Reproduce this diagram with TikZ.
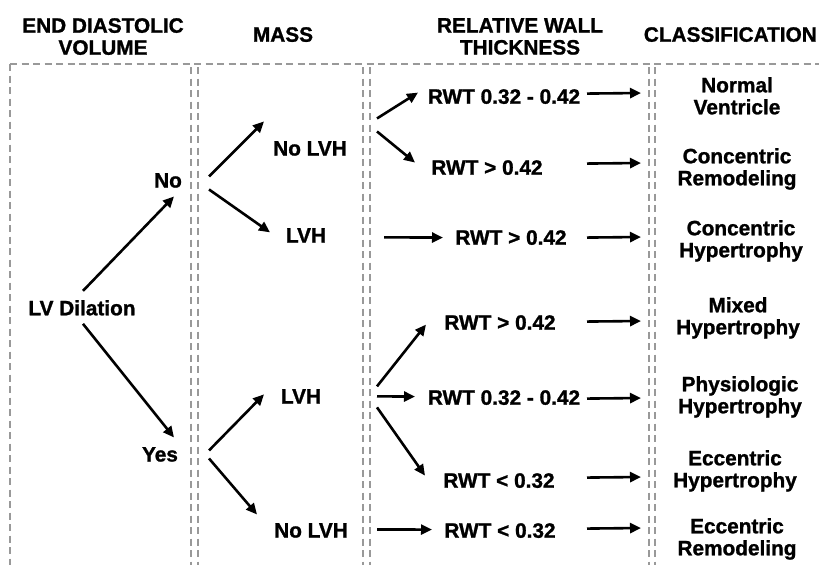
\documentclass[tikz,border=0pt]{standalone}
\usepackage{fontspec}
\setmainfont{Liberation Sans}
\newfontfamily\lblfont[FakeBold=1.2]{Liberation Sans Bold}
\usetikzlibrary{arrows.meta}
\begin{document}
\begin{tikzpicture}[x=1pt,y=-1pt,
  lbl/.style={font=\fontsize{20.8}{22}\selectfont\lblfont, inner sep=0pt, anchor=north, align=center},
  arr/.style={line width=2.6pt, -{Triangle[length=11pt,width=10pt]}},
  dsh/.style={draw=black!40, line width=1.4pt, dash pattern=on 7pt off 4.5pt}]
\useasboundingbox[fill=white] (0,0) rectangle (819,565);

% dashed frame
\draw[dsh] (10,64) -- (819,64);
\draw[dsh] (10,64) -- (10,565);
\foreach \xx in {191,198,363,370,649,655}{\draw[dsh] (\xx,67) -- (\xx,565);}

% headers
\node[lbl] (h1) at (103,18) {END DIASTOLIC\\VOLUME};
\node[lbl] (h2) at (283,27) {MASS};
\node[lbl] (h3) at (520,18) {RELATIVE WALL\\THICKNESS};
\node[lbl,anchor=north east] (h4) at (817,27) {CLASSIFICATION};

% column 1
\node[lbl] (ld) at (82,300) {LV Dilation};
\node[lbl] (no) at (168,173) {No};
\node[lbl] (yes) at (160,447) {Yes};

% column 2
\node[lbl] (m1) at (310,141) {No LVH};
\node[lbl] (m2) at (306,228) {LVH};
\node[lbl] (m3) at (301,389) {LVH};
\node[lbl] (m4) at (311,523) {No LVH};

% column 3
\node[lbl] (r1) at (504,89) {RWT 0.32 - 0.42};
\node[lbl] (r2) at (487,160) {RWT > 0.42};
\node[lbl] (r3) at (511,230) {RWT > 0.42};
\node[lbl] (r4) at (500,315) {RWT > 0.42};
\node[lbl] (r5) at (504,390) {RWT 0.32 - 0.42};
\node[lbl] (r6) at (499,473) {RWT < 0.32};
\node[lbl] (r7) at (500,523) {RWT < 0.32};

% column 4
\node[lbl] (c1) at (737,77) {Normal\\Ventricle};
\node[lbl] (c2) at (737,148) {Concentric\\Remodeling};
\node[lbl] (c3) at (741,220) {Concentric\\Hypertrophy};
\node[lbl] (c4) at (738,297) {Mixed\\Hypertrophy};
\node[lbl] (c5) at (740,376) {Physiologic\\Hypertrophy};
\node[lbl] (c6) at (735,450) {Eccentric\\Hypertrophy};
\node[lbl] (c7) at (737,518) {Eccentric\\Remodeling};

% arrows column 1
\draw[arr] ([shift={(1,-17)}]ld.center) -- ([shift={(6,16)}]no.center);
\draw[arr] ([shift={(1,16)}]ld.center) -- ([shift={(14,-17)}]yes.center);
% arrows column 2
\draw[arr] ([shift={(41,-4)}]no.center) -- ([shift={(-46,-27)}]m1.center);
\draw[arr] ([shift={(41,9)}]no.center) -- ([shift={(-36,-3)}]m2.center);
\draw[arr] ([shift={(49,-4)}]yes.center) -- ([shift={(-37,-2)}]m3.center);
\draw[arr] ([shift={(49,4)}]yes.center) -- ([shift={(-54,-16)}]m4.center);
% arrows column 3
\draw[arr] ([shift={(67,-30)}]m1.center) -- ([shift={(-86,-4)}]r1.center);
\draw[arr] ([shift={(67,-17)}]m1.center) -- ([shift={(-72,-5)}]r2.center);
\draw[arr] ([shift={(78,2)}]m2.center) -- ([shift={(-68,0)}]r3.center);
\draw[arr] ([shift={(76,-10)}]m3.center) -- ([shift={(-74,2)}]r4.center);
\draw[arr] ([shift={(76,0)}]m3.center) -- ([shift={(-89,-1)}]r5.center);
\draw[arr] ([shift={(76,11)}]m3.center) -- ([shift={(-74,-5)}]r6.center);
\draw[arr] ([shift={(66,-1)}]m4.center) -- ([shift={(-68,-1)}]r7.center);
% arrows column 4
\draw[arr] ([shift={(83,-3)}]r1.center) -- ([shift={(-96,16)}]c1.north);
\draw[arr] ([shift={(100,-4)}]r2.center) -- ([shift={(-96,15)}]c2.north);
\draw[arr] ([shift={(76,0)}]r3.center) -- ([shift={(-100,17)}]c3.north);
\draw[arr] ([shift={(87,-1)}]r4.center) -- ([shift={(-97,24)}]c4.north);
\draw[arr] ([shift={(83,1)}]r5.center) -- ([shift={(-99,22)}]c5.north);
\draw[arr] ([shift={(88,-3)}]r6.center) -- ([shift={(-94,27)}]c6.north);
\draw[arr] ([shift={(87,-2)}]r7.center) -- ([shift={(-96,10)}]c7.north);
\end{tikzpicture}
\end{document}
